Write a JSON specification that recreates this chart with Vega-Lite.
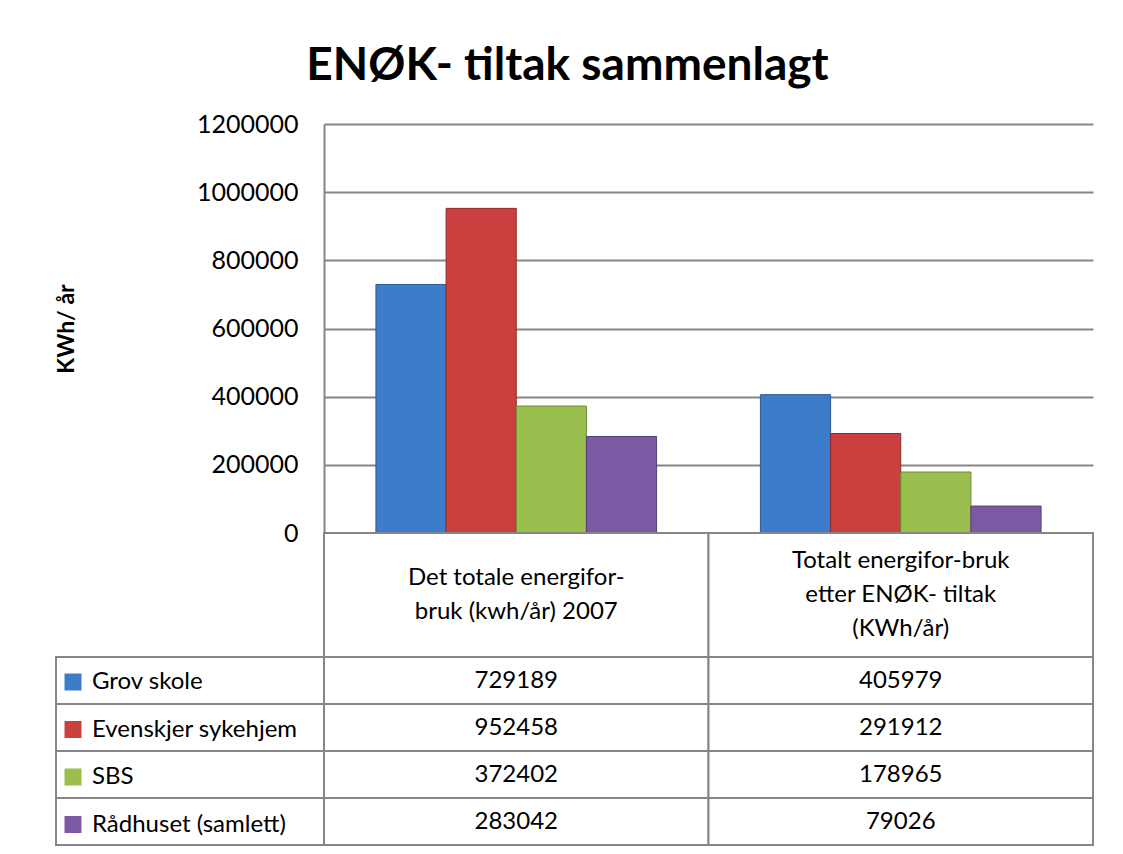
{
  "$schema": "https://vega.github.io/schema/vega-lite/v6.json",
  "padding": {"left": 55, "top": 43, "right": 31, "bottom": 5},
  "background": "white",
  "title": {"text": "ENØK- tiltak sammenlagt", "font": "Lato", "fontSize": 46, "fontWeight": "bold", "color": "black", "anchor": "middle", "dx": -7, "offset": 22},
  "datasets": {
    "energi": [
      {"kategori": "Det totale energifor-\nbruk (kwh/år) 2007", "bygg": "Grov skole", "kwh": 729189},
      {"kategori": "Det totale energifor-\nbruk (kwh/år) 2007", "bygg": "Evenskjer sykehjem", "kwh": 952458},
      {"kategori": "Det totale energifor-\nbruk (kwh/år) 2007", "bygg": "SBS", "kwh": 372402},
      {"kategori": "Det totale energifor-\nbruk (kwh/år) 2007", "bygg": "Rådhuset (samlett)", "kwh": 283042},
      {"kategori": "Totalt energifor-bruk\netter ENØK- tiltak\n(KWh/år)", "bygg": "Grov skole", "kwh": 405979},
      {"kategori": "Totalt energifor-bruk\netter ENØK- tiltak\n(KWh/år)", "bygg": "Evenskjer sykehjem", "kwh": 291912},
      {"kategori": "Totalt energifor-bruk\netter ENØK- tiltak\n(KWh/år)", "bygg": "SBS", "kwh": 178965},
      {"kategori": "Totalt energifor-bruk\netter ENØK- tiltak\n(KWh/år)", "bygg": "Rådhuset (samlett)", "kwh": 79026}
    ]
  },
  "data": {"name": "energi"},
  "columns": 2,
  "spacing": 0,
  "bounds": "flush",
  "concat": [
    {
      "width": 268, "height": 409,
      "transform": [{"aggregate": [{"op": "count", "as": "n"}]}],
      "mark": {"type": "text"},
      "encoding": {"text": {"value": ""}}
    },
    {
      "width": 769, "height": 409,
      "mark": {"type": "bar", "strokeWidth": 1},
      "encoding": {
        "x": {"field": "kategori", "type": "nominal", "sort": ["Det totale energifor-\nbruk (kwh/år) 2007", "Totalt energifor-bruk\netter ENØK- tiltak\n(KWh/år)"], "scale": {"paddingInner": 0, "paddingOuter": 0}, "axis": null},
        "xOffset": {"field": "bygg", "type": "nominal", "sort": ["Grov skole", "Evenskjer sykehjem", "SBS", "Rådhuset (samlett)"], "scale": {"paddingInner": 0, "paddingOuter": 0.74}},
        "y": {
          "field": "kwh", "type": "quantitative",
          "scale": {"domain": [0, 1200000], "nice": false},
          "axis": {
            "values": [0, 200000, 400000, 600000, 800000, 1000000, 1200000],
            "format": "d",
            "title": "KWh/ år",
            "grid": true, "gridColor": "#868686", "gridWidth": 2,
            "domainColor": "#868686", "domainWidth": 2,
            "ticks": false,
            "labelPadding": 26, "labelFont": "Lato", "labelFontSize": 25, "labelColor": "black",
            "titleFont": "Lato", "titleFontSize": 23, "titleFontWeight": "bold", "titleColor": "black", "titlePadding": 118
          }
        },
        "color": {
          "field": "bygg", "type": "nominal",
          "scale": {"domain": ["Grov skole", "Evenskjer sykehjem", "SBS", "Rådhuset (samlett)"], "range": ["#3d7ccb", "#c9403e", "#9bbf4f", "#7b5aa3"]},
          "legend": {
            "title": null, "orient": "none", "legendX": 5, "legendY": 546,
            "symbolType": "square", "symbolSize": 289, "symbolStrokeWidth": 0,
            "labelFont": "Lato", "labelFontSize": 24, "labelColor": "black", "labelOffset": 7,
            "rowPadding": 23.5, "padding": 0, "labelLimit": 300
          }
        },
        "stroke": {
          "field": "bygg", "type": "nominal",
          "scale": {"domain": ["Grov skole", "Evenskjer sykehjem", "SBS", "Rådhuset (samlett)"], "range": ["#2c5b94", "#8e2b29", "#6d8a36", "#54407a"]},
          "legend": null
        }
      }
    },
    {
      "width": 268, "height": 124,
      "transform": [{"aggregate": [{"op": "count", "as": "n"}]}],
      "mark": {"type": "text"},
      "encoding": {"text": {"value": ""}}
    },
    {
      "width": 769, "height": 124,
      "transform": [{"aggregate": [{"op": "count", "as": "n"}], "groupby": ["kategori"]}],
      "encoding": {
        "x": {"field": "kategori", "type": "nominal", "sort": ["Det totale energifor-\nbruk (kwh/år) 2007", "Totalt energifor-bruk\netter ENØK- tiltak\n(KWh/år)"], "scale": {"paddingInner": 0, "paddingOuter": 0}, "axis": null}
      },
      "layer": [
        {"mark": {"type": "rect", "fill": "white", "stroke": "#868686", "strokeWidth": 2}},
        {
          "transform": [{"filter": "datum.kategori == 'Det totale energifor-\\nbruk (kwh/år) 2007'"}],
          "mark": {"type": "text", "font": "Lato", "fontSize": 24, "color": "black", "lineBreak": "\n", "lineHeight": 34, "baseline": "middle", "dy": -17},
          "encoding": {"text": {"field": "kategori", "type": "nominal"}}
        },
        {
          "transform": [{"filter": "datum.kategori != 'Det totale energifor-\\nbruk (kwh/år) 2007'"}],
          "mark": {"type": "text", "font": "Lato", "fontSize": 24, "color": "black", "lineBreak": "\n", "lineHeight": 34, "baseline": "middle", "dy": -34},
          "encoding": {"text": {"field": "kategori", "type": "nominal"}}
        }
      ]
    },
    {
      "width": 268, "height": 188,
      "transform": [{"aggregate": [{"op": "count", "as": "n"}], "groupby": ["bygg"]}],
      "mark": {"type": "rect", "fill": "white", "stroke": "#868686", "strokeWidth": 2},
      "encoding": {
        "y": {"field": "bygg", "type": "nominal", "sort": ["Grov skole", "Evenskjer sykehjem", "SBS", "Rådhuset (samlett)"], "scale": {"paddingInner": 0, "paddingOuter": 0}, "axis": null}
      }
    },
    {
      "width": 769, "height": 188,
      "encoding": {
        "x": {"field": "kategori", "type": "nominal", "sort": ["Det totale energifor-\nbruk (kwh/år) 2007", "Totalt energifor-bruk\netter ENØK- tiltak\n(KWh/år)"], "scale": {"paddingInner": 0, "paddingOuter": 0}, "axis": null},
        "y": {"field": "bygg", "type": "nominal", "sort": ["Grov skole", "Evenskjer sykehjem", "SBS", "Rådhuset (samlett)"], "scale": {"paddingInner": 0, "paddingOuter": 0}, "axis": null}
      },
      "layer": [
        {"mark": {"type": "rect", "fill": "white", "stroke": "#868686", "strokeWidth": 2}},
        {"mark": {"type": "text", "font": "Lato", "fontSize": 24, "color": "black", "baseline": "middle"}, "encoding": {"text": {"field": "kwh", "type": "quantitative", "format": "d"}}}
      ]
    }
  ],
  "config": {"view": {"stroke": null}}
}
